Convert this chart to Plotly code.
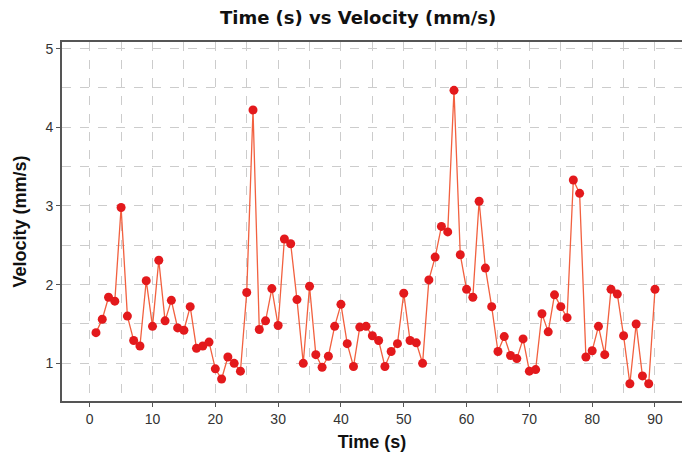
import plotly.graph_objects as go

time_s = list(range(1, 91))
velocity = [
    1.39, 1.56, 1.84, 1.79, 2.98, 1.60, 1.29, 1.22, 2.05, 1.47,
    2.31, 1.54, 1.80, 1.45, 1.42, 1.72, 1.19, 1.22, 1.27, 0.93,
    0.80, 1.08, 1.00, 0.90, 1.90, 4.22, 1.43, 1.54, 1.95, 1.48,
    2.58, 2.52, 1.81, 1.00, 1.98, 1.11, 0.95, 1.09, 1.47, 1.75,
    1.25, 0.96, 1.46, 1.47, 1.35, 1.29, 0.96, 1.15, 1.25, 1.89,
    1.29, 1.26, 1.00, 2.06, 2.35, 2.74, 2.67, 4.47, 2.38, 1.94,
    1.84, 3.06, 2.21, 1.72, 1.15, 1.34, 1.10, 1.06, 1.31, 0.90,
    0.92, 1.63, 1.40, 1.87, 1.72, 1.58, 3.33, 3.16, 1.08, 1.16,
    1.47, 1.11, 1.94, 1.88, 1.35, 0.74, 1.50, 0.84, 0.74, 1.94,
]
x_ticks = [0, 10, 20, 30, 40, 50, 60, 70, 80, 90]
y_ticks = [1, 2, 3, 4, 5]

fig = go.Figure(go.Scatter(
    x=time_s, y=velocity, mode="lines+markers",
    line=dict(color="#f2603f", width=1.3),
    marker=dict(color="#e3191c", size=9, symbol="circle"),
))

tick_font = dict(family="Liberation Sans Narrow, Arial Narrow, Liberation Sans, Arial", size=14, color="#333333")
title_font = dict(family="Liberation Sans, Arial, sans-serif", size=18, color="#111111")

fig.update_layout(
    width=682, height=461,
    margin=dict(l=62, r=0, t=42, b=60),
    paper_bgcolor="white", plot_bgcolor="white",
    showlegend=False,
    title=dict(text="<b>Time (s) vs Velocity (mm/s)</b>", x=0.525, xanchor="center",
               y=0.962, yanchor="middle",
               font=dict(family="DejaVu Sans, Verdana, sans-serif", size=18, color="#111111")),
)
fig.update_xaxes(
    range=[-4.41, 94.3], tickvals=x_ticks, ticktext=[str(v) for v in x_ticks],
    showline=True, linecolor="#555555", linewidth=2, mirror=True,
    ticks="outside", ticklen=4, tickcolor="#555555", tickfont=tick_font,
    showgrid=True, gridcolor="#cccccc", griddash="dash", gridwidth=1,
    minor=dict(dtick=5, tick0=0, showgrid=True, gridcolor="#cccccc", griddash="dash", gridwidth=1),
    zeroline=False,
    title=dict(text="<b>Time (s)</b>", font=title_font, standoff=10),
)
fig.update_yaxes(
    range=[0.521, 5.084], tickvals=y_ticks, ticktext=[str(v) for v in y_ticks],
    showline=True, linecolor="#555555", linewidth=2,
    ticks="outside", ticklen=4, tickcolor="#555555", tickfont=tick_font,
    showgrid=True, gridcolor="#cccccc", griddash="dash", gridwidth=1,
    minor=dict(dtick=0.5, tick0=0, showgrid=True, gridcolor="#cccccc", griddash="dash", gridwidth=1),
    zeroline=False,
    title=dict(text="<b>Velocity (mm/s)</b>", font=title_font, standoff=14),
)

fig.write_html("out.html")
